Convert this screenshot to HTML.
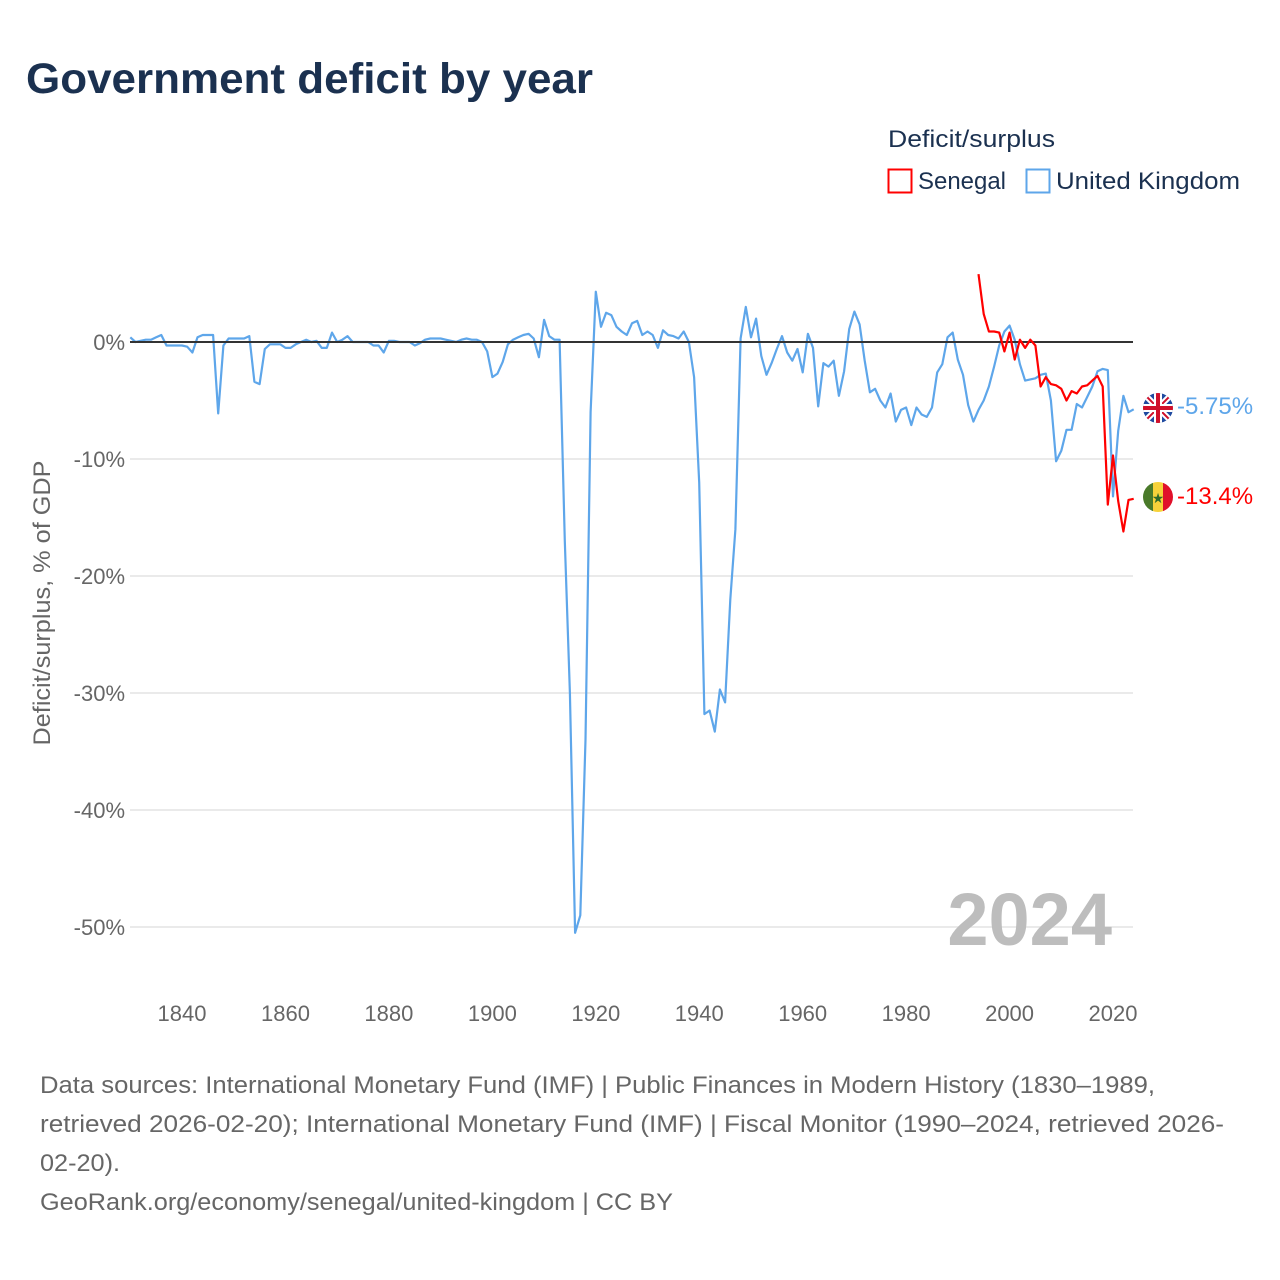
<!DOCTYPE html>
<html><head><meta charset="utf-8">
<style>
body{margin:0;background:#fff;width:1280px;height:1280px;overflow:hidden;font-family:"Liberation Sans",Lato,sans-serif;}
svg{display:block}
</style></head>
<body>
<svg width="1280" height="1280" viewBox="0 0 1280 1280">
<text x="26" y="93" font-size="43" font-weight="bold" fill="#1b3150" textLength="567" lengthAdjust="spacingAndGlyphs">Government deficit by year</text>
<text x="888" y="147" font-size="24" fill="#1b3150" textLength="167" lengthAdjust="spacingAndGlyphs">Deficit/surplus</text>
<g><rect x="888.5" y="169.5" width="23" height="23" fill="none" stroke="#f00" stroke-width="2"/><text x="918" y="189" font-size="24" fill="#1b3150" textLength="88" lengthAdjust="spacingAndGlyphs">Senegal</text></g>
<g><rect x="1026.5" y="169.5" width="23" height="23" fill="none" stroke="#5ea6ea" stroke-width="2"/><text x="1056" y="189" font-size="24" fill="#1b3150" textLength="184" lengthAdjust="spacingAndGlyphs">United Kingdom</text></g>
<g id="grid"></g>
<g id="yticks"></g>
<g id="xticks"></g>
<text transform="translate(50,603) rotate(-90)" text-anchor="middle" font-size="24" fill="#666" textLength="285" lengthAdjust="spacingAndGlyphs">Deficit/surplus, % of GDP</text>
<text x="1112" y="945" text-anchor="end" font-size="74" font-weight="bold" fill="#bdbdbd">2024</text>
<g id="series"></g>
<g>
<defs><clipPath id="cu"><circle cx="1158" cy="408" r="15"/></clipPath><clipPath id="cs"><circle cx="1158" cy="497" r="15"/></clipPath></defs>
<g clip-path="url(#cu)"><rect x="1143" y="393" width="30" height="30" fill="#1f4aa0"/><path d="M1143 393L1173 423M1173 393L1143 423" stroke="#fff" stroke-width="6"/><path d="M1143 393L1173 423M1173 393L1143 423" stroke="#d0102a" stroke-width="2"/><path d="M1158 393V423M1143 408H1173" stroke="#fff" stroke-width="8"/><path d="M1158 393V423M1143 408H1173" stroke="#d0102a" stroke-width="4"/></g>
</g>
<g><g clip-path="url(#cs)"><rect x="1143" y="482" width="10" height="30" fill="#4a7a2a"/><rect x="1153" y="482" width="10" height="30" fill="#f7d23a"/><rect x="1163" y="482" width="10" height="30" fill="#e0102a"/><text x="1158" y="503" text-anchor="middle" font-size="14" fill="#2f6a2a">★</text></g></g>
<text x="1177" y="414" font-size="24" fill="#5ea6ea">-5.75%</text>
<text x="1177" y="504" font-size="24" fill="#f00">-13.4%</text>
<g font-size="24" fill="#666">
<text x="40" y="1093" textLength="1115" lengthAdjust="spacingAndGlyphs">Data sources: International Monetary Fund (IMF) | Public Finances in Modern History (1830–1989,</text>
<text x="40" y="1132" textLength="1184" lengthAdjust="spacingAndGlyphs">retrieved 2026-02-20); International Monetary Fund (IMF) | Fiscal Monitor (1990–2024, retrieved 2026-</text>
<text x="40" y="1171" textLength="80" lengthAdjust="spacingAndGlyphs">02-20).</text>
<text x="40" y="1210" textLength="633" lengthAdjust="spacingAndGlyphs">GeoRank.org/economy/senegal/united-kingdom | CC BY</text>
</g>
</svg>
<script>
const ukStart = 1830;
const ukValues = [0.4,0,0.1,0.2,0.2,0.4,0.6,-0.3,-0.3,-0.3,-0.3,-0.4,-0.9,0.4,0.6,0.6,0.6,-6.1,-0.3,0.3,
0.3,0.3,0.3,0.5,-3.4,-3.6,-0.6,-0.2,-0.2,-0.2,-0.5,-0.5,-0.2,0,0.2,0,0.1,-0.5,-0.5,0.8,
0,0.2,0.5,0,0,0,0,-0.3,-0.3,-0.9,0.1,0.1,0,0,0,-0.3,-0.1,0.2,0.3,0.3,
0.3,0.2,0.1,0,0.2,0.3,0.2,0.2,0,-0.8,-3.0,-2.7,-1.7,-0.2,0.2,0.4,0.6,0.7,0.3,-1.3,
1.9,0.5,0.2,0.2,-17,-30,-50.5,-49,-34,-6,4.3,1.3,2.5,2.3,1.3,0.9,0.6,1.6,1.8,0.6,
0.9,0.6,-0.5,1.0,0.6,0.5,0.3,0.9,0,-3.0,-12,-31.8,-31.5,-33.3,-29.7,-30.8,-22,-16,0.3,3.0,
0.4,2.0,-1.2,-2.8,-1.8,-0.6,0.5,-0.9,-1.6,-0.6,-2.6,0.7,-0.5,-5.5,-1.8,-2.1,-1.6,-4.6,-2.5,1.1,
2.6,1.5,-1.6,-4.3,-4.0,-5.0,-5.6,-4.4,-6.8,-5.8,-5.6,-7.1,-5.6,-6.2,-6.4,-5.6,-2.6,-1.9,0.4,0.8,
-1.5,-2.8,-5.4,-6.8,-5.8,-5.0,-3.8,-2.1,-0.3,0.9,1.4,0.2,-1.9,-3.3,-3.2,-3.1,-2.8,-2.7,-5.0,-10.2,
-9.3,-7.5,-7.5,-5.3,-5.6,-4.7,-3.8,-2.5,-2.3,-2.4,-13.2,-7.6,-4.6,-6.0,-5.75];
const snStart = 1994;
const snValues = [5.8,2.4,0.9,0.9,0.8,-0.8,0.8,-1.5,0.2,-0.5,0.2,-0.3,-3.8,-3.0,-3.6,-3.7,-4.0,-5.0,-4.2,-4.4,
-3.8,-3.7,-3.3,-2.9,-3.8,-13.9,-9.7,-13.6,-16.2,-13.5,-13.4];
const yTicks = [0,-10,-20,-30,-40,-50];
const xTicks = [1840,1860,1880,1900,1920,1940,1960,1980,2000,2020];
const NS='http://www.w3.org/2000/svg';
const X0=130.3, X1=1133.7;
function xs(y){return X0+(y-1830)*(X1-X0)/(2024-1830);}
function ys(v){return 342-v*11.7;}
function mk(t,a,p){const e=document.createElementNS(NS,t);for(const k in a)e.setAttribute(k,a[k]);p.appendChild(e);return e;}
const grid=document.getElementById('grid'),yt=document.getElementById('yticks'),xt=document.getElementById('xticks'),ser=document.getElementById('series');
yTicks.forEach(v=>{
  if(v!==0){const l=mk('line',{x1:130,x2:1133,y1:ys(v),y2:ys(v),stroke:'#e4e4e4','stroke-width':1.5},grid);
  
  }
  const t=mk('text',{x:125,y:ys(v)+8,'text-anchor':'end','font-size':22,fill:'#666'},yt);
  t.textContent=v+'%';
  
  
});
xTicks.forEach(y=>{
  const t=mk('text',{x:xs(y),y:1021,'text-anchor':'middle','font-size':22,fill:'#666'},xt);
  t.textContent=y;
  
  
});
function line(start,vals,color,name){
  const d=vals.map((v,i)=>(i?'L':'M')+xs(start+i).toFixed(1)+' '+ys(v).toFixed(1)).join('');
  const p=mk('path',{d:d,fill:'none',stroke:color,'stroke-width':2.2,'stroke-linejoin':'round'},ser);
  
  
}
line(ukStart,ukValues,'#5ea6ea','uk-line');
const z=mk('line',{x1:130,x2:1133,y1:342,y2:342,stroke:'#333','stroke-width':2},ser);


line(snStart,snValues,'#f00','senegal-line');
</script>
</body></html>
